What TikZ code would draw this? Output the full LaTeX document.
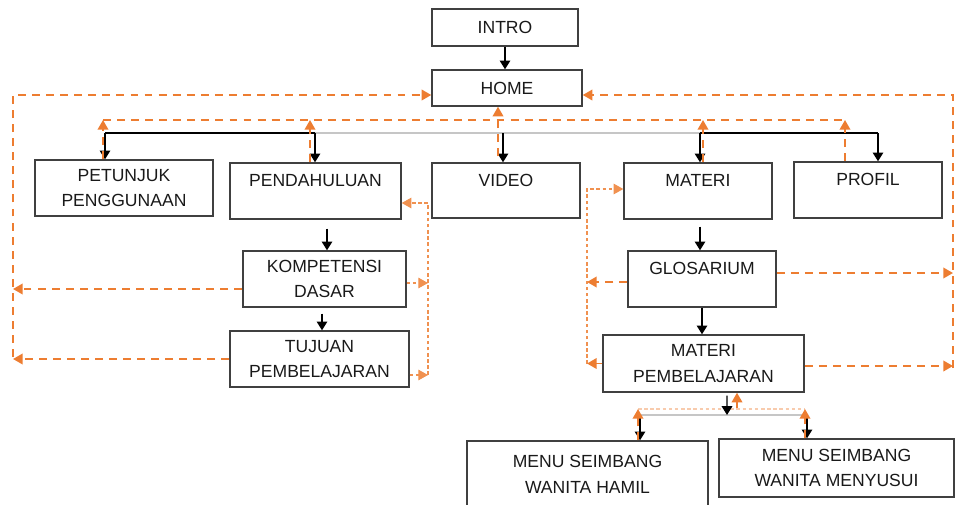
\documentclass[tikz,border=0pt]{standalone}
\usepackage{fontspec}
\setmainfont{Liberation Sans}
\usetikzlibrary{arrows.meta,calc}
\definecolor{ora}{RGB}{237,125,49}
\definecolor{edge}{RGB}{64,64,64}
\tikzset{
  box/.style={draw=edge, line width=0.8pt, align=center, inner sep=0pt,
    font=\fontsize{10}{14.7}\selectfont, text=black!90},
  sz/.style 2 args={minimum width=#1*0.02cm, minimum height=#2*0.02cm},
  blk/.style={line width=0.8pt, -{Triangle[length=5pt,width=6pt]}},
  back/.style={ora, line width=1.1pt, dash pattern=on 4.5pt off 3.5pt,
    -{Triangle[length=5.5pt,width=6pt]}},
  backthin/.style={ora!85, line width=0.6pt, dash pattern=on 2pt off 1.5pt,
    -{Triangle[length=5.5pt,width=6pt]}},
}
\begin{document}
\begin{tikzpicture}[x=0.02cm, y=-0.02cm]
   \useasboundingbox (0,0) rectangle (955,504);
   %
   \node[box, sz={146}{37}] (intro) at (505,27.5) {INTRO};
   \node[box, sz={150}{36}] (home) at (507,88) {HOME};
   \node[box, sz={178}{56}] (petunjuk) at (124,188) {PETUNJUK\\PENGGUNAAN};
   \node[box, sz={171}{56}] (pendahuluan) at (315.5,191) {PENDAHULUAN\\[-3pt]\mbox{}};
   \node[box, sz={148}{55}] (video) at (506,190.5) {VIDEO\\[-3pt]\mbox{}};
   \node[box, sz={148}{56}] (materi) at (698,191) {MATERI\\[-3pt]\mbox{}};
   \node[box, sz={148}{56}] (profil) at (868,190) {PROFIL\\[-3pt]\mbox{}};
   \node[box, sz={163}{56}] (kd) at (324.5,279) {KOMPETENSI\\DASAR};
   \node[box, sz={179}{56}] (tujuan) at (319.5,359) {TUJUAN\\PEMBELAJARAN};
   \node[box, sz={148}{56}] (glosarium) at (702,279) {GLOSARIUM\\[-3pt]\mbox{}};
   \node[box, sz={201}{57}] (matpem) at (703.5,363.5) {MATERI\\PEMBELAJARAN};
   \node[box, sz={241}{66}] (hamil) at (587.5,474) {MENU SEIMBANG\\WANITA HAMIL};
   \node[box, sz={235}{58}] (menyusui) at (836.5,468) {MENU SEIMBANG\\WANITA MENYUSUI};
   %
   % faint orange line below materi pembelajaran
   \coordinate (d0) at (737,408);
   \coordinate (d1) at (638,409);
   \coordinate (d2) at (805,409);
   \draw[backthin, -, ora!40] (d1) -- (d2);
   %
   % black arrows
   \draw[blk] (intro.south) -- (intro.south |- home.north);
   \coordinate (b1) at (105,133);
   \coordinate (b2) at (315,133);
   \coordinate (b3) at (503,133);
   \coordinate (b4) at (700,133);
   \coordinate (b5) at (878,133);
   \draw[line width=0.7pt] (b1) -- (b2);
   \draw[gray!45, line width=0.9pt] (b2) -- (b4);
   \draw[line width=0.7pt] (b4) -- (b5);
   \foreach \b/\n in {b1/petunjuk, b2/pendahuluan, b3/video, b4/materi, b5/profil}
     \draw[blk] (\b) -- (\b |- \n.north);
   %
   \coordinate (pk) at ($(pendahuluan.south)+(11.5,9)$);
   \draw[blk] (pk) -- (pk |- kd.north);
   \coordinate (kt) at ($(kd.south)+(-2.5,6)$);
   \draw[blk] (kt) -- (kt |- tujuan.north);
   \coordinate (mg) at ($(materi.south)+(2,7)$);
   \draw[blk] (mg) -- (mg |- glosarium.north);
   \draw[blk] (glosarium.south) -- (glosarium.south |- matpem.north);
   %
   \coordinate (mb) at ($(matpem.south)+(23.5,3)$);
   \coordinate (c0) at (727,415);
   \coordinate (c1) at (640,415);
   \coordinate (c2) at (807,415);
   \draw[gray!45, line width=0.9pt] (c1) -- (c2);
   \draw[blk] (mb) -- (c0);
   \draw[blk] (c1) -- (c1 |- hamil.north);
   \draw[blk] (c2) -- (c2 |- menyusui.north);
   %
   % orange: back to home, top
   \coordinate (u1) at (103,120);
   \coordinate (u2) at (310,120);
   \coordinate (u3) at (498,120);
   \coordinate (u4) at (703,120);
   \coordinate (u5) at (845,120);
   \draw[back, -] (u1) -- (u5);
   \foreach \u/\n in {u1/petunjuk, u2/pendahuluan, u4/materi, u5/profil}
     \draw[back] (\u |- \n.north) -- (\u);
   \coordinate (vt) at ($(video.north)+(-8,-6)$);
   \draw[back] (vt) -- (vt |- home.south);
   %
   % orange: left loop
   \coordinate (l1) at (13,95);
   \coordinate (l2) at (13,357);
   \draw[back] (l2) -- (l1) -- (l1 -| home.west);
   \coordinate (kl) at ($(kd.west)+(0,10)$);
   \draw[back] (kl) -- (kl -| l1);
   \draw[back] (tujuan.west) -- (tujuan.west -| l1);
   %
   % orange: right loop
   \coordinate (r1) at (953,95);
   \coordinate (r2) at (953,368);
   \draw[back] (r2) -- (r1) -- (r1 -| home.east);
   \coordinate (gr) at ($(glosarium.east)+(0,-6)$);
   \draw[back] (gr) -- (gr -| r1);
   \coordinate (mr) at ($(matpem.east)+(0,2.5)$);
   \draw[back] (mr) -- (mr -| r1);
   %
   % orange: back to pendahuluan
   \coordinate (p1) at (428,375);
   \coordinate (pe) at ($(pendahuluan.east)+(0,12)$);
   \draw[backthin] (p1) -- (p1 |- pe) -- (pe);
   \coordinate (ke) at ($(kd.east)+(0,4)$);
   \draw[backthin] (ke) -- (ke -| p1);
   \coordinate (te) at ($(tujuan.east)+(0,16)$);
   \draw[backthin] (te) -- (te -| p1);
   %
   % orange: back to materi
   \coordinate (m1) at (587,364);
   \coordinate (mw) at ($(materi.west)+(0,-2)$);
   \draw[backthin] (m1) -- (m1 |- mw) -- (mw);
   \coordinate (gw) at ($(glosarium.west)+(0,3)$);
   \draw[back] (gw) -- (gw -| m1);
   \draw[back] (matpem.west) -- (matpem.west -| m1);
   %
   % orange: back to materi pembelajaran
   \draw[back] (d1 |- hamil.north) -- (d1);
   \draw[back] (d2 |- menyusui.north) -- (d2);
   \draw[back] (d0) -- (d0 |- matpem.south);
   %
\end{tikzpicture}
\end{document}
